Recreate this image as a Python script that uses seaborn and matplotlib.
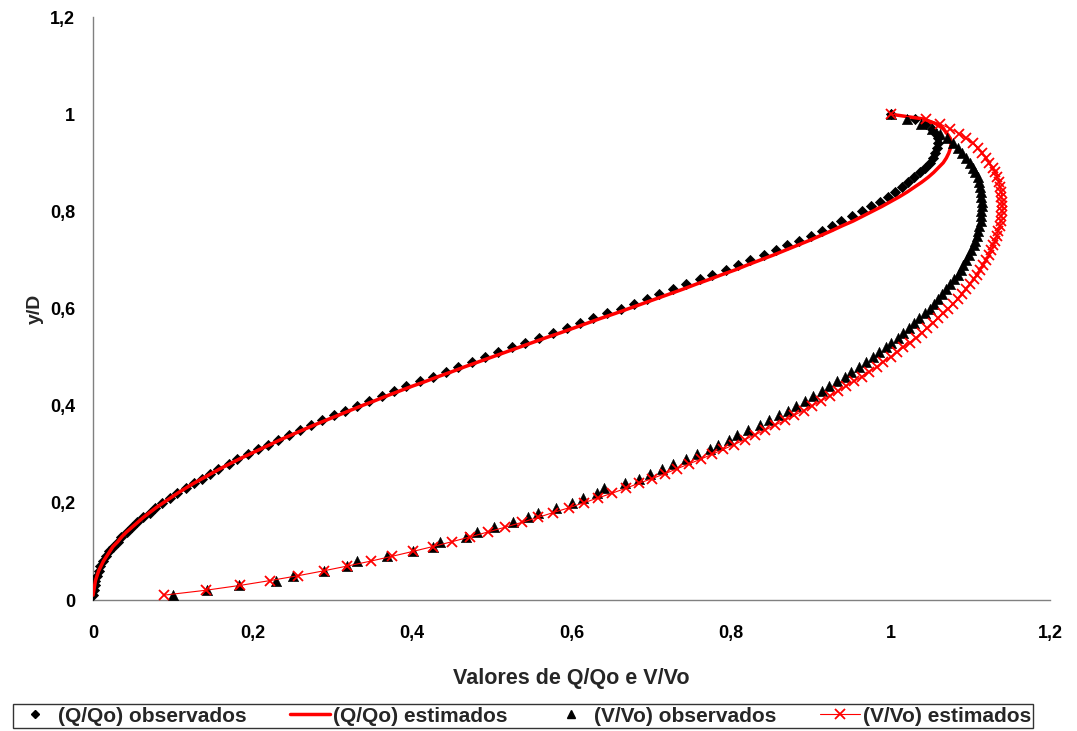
import matplotlib
matplotlib.use("Agg")
import matplotlib.pyplot as plt
from matplotlib.ticker import FixedLocator, FuncFormatter
from matplotlib.lines import Line2D
import seaborn as sns

# y/D (altura relativa da lâmina)
y_d = [0.01, 0.02, 0.03, 0.04, 0.05, 0.06, 0.07, 0.08, 0.09, 0.10,
       0.11, 0.12, 0.13, 0.14, 0.15, 0.16, 0.17, 0.18, 0.19, 0.20,
       0.21, 0.22, 0.23, 0.24, 0.25, 0.26, 0.27, 0.28, 0.29, 0.30,
       0.31, 0.32, 0.33, 0.34, 0.35, 0.36, 0.37, 0.38, 0.39, 0.40,
       0.41, 0.42, 0.43, 0.44, 0.45, 0.46, 0.47, 0.48, 0.49, 0.50,
       0.51, 0.52, 0.53, 0.54, 0.55, 0.56, 0.57, 0.58, 0.59, 0.60,
       0.61, 0.62, 0.63, 0.64, 0.65, 0.66, 0.67, 0.68, 0.69, 0.70,
       0.71, 0.72, 0.73, 0.74, 0.75, 0.76, 0.77, 0.78, 0.79, 0.80,
       0.81, 0.82, 0.83, 0.84, 0.85, 0.86, 0.87, 0.88, 0.89, 0.90,
       0.91, 0.92, 0.93, 0.94, 0.95, 0.96, 0.97, 0.98, 0.99, 1.00]

# (Q/Qo) observados
q_obs = [0.000, 0.001, 0.002, 0.003, 0.005, 0.007, 0.009, 0.013, 0.016, 0.020,
         0.025, 0.031, 0.035, 0.042, 0.049, 0.055, 0.063, 0.071, 0.078, 0.087,
         0.097, 0.105, 0.116, 0.126, 0.136, 0.147, 0.157, 0.170, 0.181, 0.194,
         0.207, 0.219, 0.232, 0.246, 0.259, 0.273, 0.287, 0.302, 0.316, 0.331,
         0.346, 0.362, 0.377, 0.393, 0.410, 0.426, 0.442, 0.458, 0.475, 0.491,
         0.508, 0.525, 0.542, 0.559, 0.577, 0.594, 0.611, 0.627, 0.644, 0.662,
         0.678, 0.694, 0.710, 0.727, 0.744, 0.761, 0.776, 0.794, 0.809, 0.824,
         0.841, 0.856, 0.870, 0.885, 0.900, 0.914, 0.926, 0.938, 0.952, 0.964,
         0.976, 0.987, 0.997, 1.006, 1.014, 1.022, 1.030, 1.037, 1.043, 1.049,
         1.053, 1.056, 1.058, 1.060, 1.059, 1.057, 1.052, 1.045, 1.031, 1.000]

# (Q/Qo) estimados
q_est = [0.000, 0.001, 0.002, 0.003, 0.005, 0.007, 0.010, 0.013, 0.017, 0.021,
         0.025, 0.031, 0.036, 0.042, 0.049, 0.056, 0.063, 0.071, 0.079, 0.088,
         0.097, 0.106, 0.116, 0.126, 0.137, 0.148, 0.159, 0.171, 0.183, 0.196,
         0.209, 0.222, 0.235, 0.249, 0.263, 0.277, 0.292, 0.307, 0.322, 0.337,
         0.353, 0.368, 0.384, 0.400, 0.417, 0.433, 0.450, 0.466, 0.483, 0.500,
         0.517, 0.534, 0.551, 0.568, 0.586, 0.603, 0.620, 0.637, 0.655, 0.672,
         0.689, 0.706, 0.723, 0.740, 0.756, 0.773, 0.789, 0.806, 0.821, 0.837,
         0.853, 0.868, 0.883, 0.898, 0.912, 0.926, 0.939, 0.953, 0.965, 0.977,
         0.989, 1.000, 1.011, 1.021, 1.030, 1.039, 1.047, 1.054, 1.060, 1.066,
         1.070, 1.073, 1.075, 1.076, 1.075, 1.071, 1.066, 1.057, 1.042, 1.000]

# (V/Vo) observados
v_obs = [0.100, 0.143, 0.183, 0.229, 0.251, 0.289, 0.318, 0.331, 0.368, 0.401,
         0.426, 0.435, 0.468, 0.482, 0.503, 0.527, 0.546, 0.558, 0.580, 0.600,
         0.614, 0.632, 0.641, 0.667, 0.684, 0.698, 0.713, 0.727, 0.744, 0.757,
         0.773, 0.784, 0.797, 0.807, 0.821, 0.836, 0.848, 0.860, 0.871, 0.882,
         0.893, 0.903, 0.914, 0.923, 0.933, 0.943, 0.951, 0.961, 0.969, 0.978,
         0.986, 0.994, 1.001, 1.009, 1.016, 1.023, 1.030, 1.036, 1.043, 1.049,
         1.054, 1.060, 1.065, 1.070, 1.075, 1.079, 1.084, 1.088, 1.091, 1.095,
         1.098, 1.101, 1.104, 1.106, 1.108, 1.110, 1.111, 1.113, 1.114, 1.114,
         1.115, 1.115, 1.114, 1.113, 1.112, 1.111, 1.109, 1.106, 1.103, 1.100,
         1.095, 1.090, 1.085, 1.078, 1.071, 1.062, 1.052, 1.038, 1.021, 1.000]

# (V/Vo) estimados
v_est = [0.089, 0.141, 0.184, 0.222, 0.257, 0.289, 0.319, 0.348, 0.375, 0.401,
         0.426, 0.450, 0.473, 0.495, 0.517, 0.538, 0.558, 0.577, 0.597, 0.615,
         0.633, 0.651, 0.668, 0.684, 0.701, 0.717, 0.732, 0.747, 0.762, 0.776,
         0.790, 0.804, 0.817, 0.830, 0.843, 0.855, 0.868, 0.879, 0.891, 0.902,
         0.913, 0.924, 0.934, 0.944, 0.954, 0.964, 0.973, 0.983, 0.991, 1.000,
         1.008, 1.016, 1.024, 1.032, 1.039, 1.046, 1.053, 1.060, 1.066, 1.072,
         1.078, 1.084, 1.089, 1.094, 1.099, 1.104, 1.108, 1.112, 1.116, 1.120,
         1.123, 1.126, 1.129, 1.131, 1.133, 1.135, 1.137, 1.138, 1.139, 1.140,
         1.140, 1.140, 1.139, 1.139, 1.137, 1.136, 1.134, 1.131, 1.128, 1.124,
         1.120, 1.115, 1.109, 1.103, 1.095, 1.086, 1.075, 1.062, 1.044, 1.000]

ticks = [0, 0.2, 0.4, 0.6, 0.8, 1.0, 1.2]
legend_labels = ["(Q/Qo) observados", "(Q/Qo) estimados",
                 "(V/Vo) observados", "(V/Vo) estimados"]

sns.set_theme(style="white")
plt.rcParams['font.family'] = ['Liberation Sans', 'DejaVu Sans']
plt.rcParams['font.weight'] = 'bold'

fig = plt.figure(figsize=(10.77, 7.31), dpi=100)
ax = fig.add_axes([0.0864, 0.1792, 0.8886, 0.7975])

sns.scatterplot(x=q_obs, y=y_d, marker='D', s=26, color='black',
                edgecolor='black', linewidth=0.6, ax=ax, zorder=3)
sns.lineplot(x=q_est, y=y_d, orient='y', sort=False, estimator=None,
             color='red', linewidth=2.5, ax=ax, zorder=4)
sns.scatterplot(x=v_obs, y=y_d, marker='^', s=55, color='black',
                edgecolor='black', linewidth=0.4, ax=ax, zorder=5)
sns.lineplot(x=v_est, y=y_d, orient='y', sort=False, estimator=None,
             color='red', linewidth=0.8, marker='x', markersize=6.5,
             markeredgewidth=1.3, markeredgecolor='red', ax=ax, zorder=6)

ax.set_xlim(0, 1.2)
ax.set_ylim(0, 1.2)
fmt = FuncFormatter(lambda v, p: f"{v:g}".replace('.', ','))
for axis in (ax.xaxis, ax.yaxis):
    axis.set_major_locator(FixedLocator(ticks))
    axis.set_major_formatter(fmt)

for side in ('top', 'right'):
    ax.spines[side].set_visible(False)
for side in ('left', 'bottom'):
    ax.spines[side].set_color('#808080')
    ax.spines[side].set_linewidth(1.0)

ax.tick_params(axis='both', which='major', direction='out', length=5,
               width=1, color='#808080', labelsize=13, labelcolor='black')
ax.tick_params(axis='x', pad=13)
ax.tick_params(axis='y', pad=8)
for lbl in ax.get_xticklabels() + ax.get_yticklabels():
    lbl.set_fontweight('bold')

ax.set_xlabel("Valores de Q/Qo e V/Vo", fontsize=15.5, fontweight='bold', labelpad=19)
ax.set_ylabel("y/D", fontsize=14, fontweight='bold', labelpad=4)

handles = [
    Line2D([], [], linestyle='none', marker='D', markersize=4.5, color='black'),
    Line2D([], [], color='red', linewidth=2.5),
    Line2D([], [], linestyle='none', marker='^', markersize=5.5, color='black'),
    Line2D([], [], color='red', linewidth=0.8, marker='x', markersize=6.5,
           markeredgewidth=1.3),
]
leg = fig.legend(handles, legend_labels, loc='center', ncol=4,
                 bbox_to_anchor=(0.4856, 0.0205), frameon=True, fancybox=False,
                 edgecolor='black', handlelength=1.9,
                 columnspacing=2.1, handletextpad=0.15, borderpad=0.1,
                 borderaxespad=0, prop={'weight': 'bold', 'size': 15})
leg.get_frame().set_linewidth(1.0)

fig.savefig("out.png", dpi=100, facecolor='white')
